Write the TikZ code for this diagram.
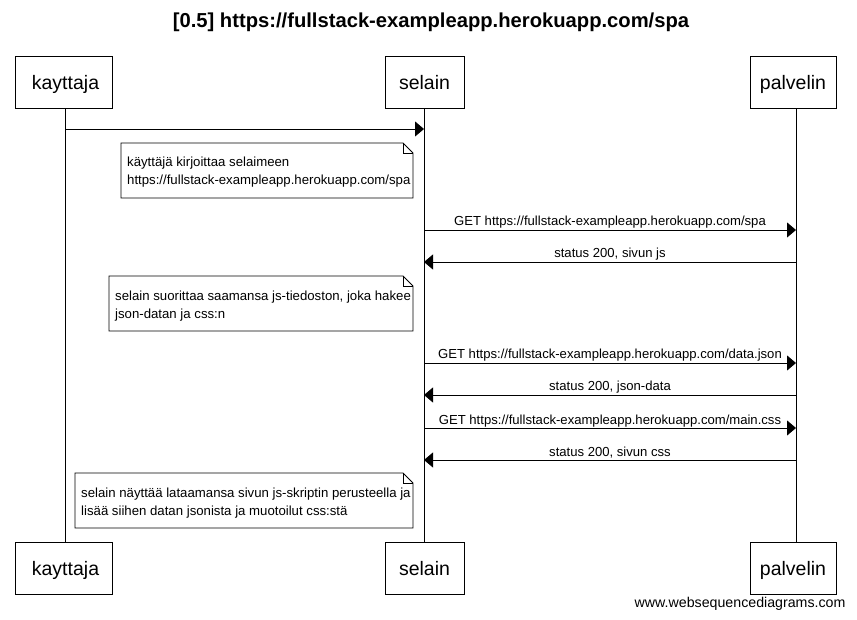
\documentclass[tikz,border=0pt]{standalone}
\usepackage{fontspec}
\setmainfont{Liberation Sans}
\usetikzlibrary{arrows.meta}
\begin{document}
\begin{tikzpicture}[x=1pt,y=-1pt,
  actor/.style={draw,line width=0.8pt,minimum height=52pt,inner sep=0pt,font=\fontsize{19.5}{21}\selectfont},
  alabel/.style={font=\fontsize{19.5}{21}\selectfont,inner sep=0pt,anchor=base},
  life/.style={line width=0.8pt},
  msg/.style={line width=0.8pt,-{Triangle[length=9pt,width=15pt]}},
  mlabel/.style={font=\fontsize{13.1}{14}\selectfont,inner sep=0pt,anchor=base},
  notetext/.style={font=\fontsize{13.2}{17.5}\selectfont,align=left,inner sep=0pt,anchor=north west},
  notebox/.style={line width=0.8pt,fill=white},
  fold/.style={line width=0.6pt}]
\useasboundingbox (0,0) rectangle (857,620);
\node[font=\bfseries\fontsize{20.2}{22}\selectfont] (title) at (431,22) {[0.5] https://fullstack-exampleapp.herokuapp.com/spa};
% actors top
\node[draw,line width=0.8pt,minimum width=97pt,minimum height=52pt] (kt) at (63.5,82) {};
\node[draw,line width=0.8pt,minimum width=79pt,minimum height=52pt] (st) at (424.5,82) {};
\node[draw,line width=0.8pt,minimum width=86pt,minimum height=52pt] (pt) at (793,82) {};
\node[alabel] (ktl) at (65.5,89.5) {kayttaja};
\node[alabel] (stl) at (424.5,89.5) {selain};
\node[alabel] (ptl) at (793,89.5) {palvelin};
% actors bottom
\node[draw,line width=0.8pt,minimum width=97pt,minimum height=52pt] (kb) at (63.5,568) {};
\node[draw,line width=0.8pt,minimum width=79pt,minimum height=52pt] (sb) at (424.5,568) {};
\node[draw,line width=0.8pt,minimum width=86pt,minimum height=52pt] (pb) at (793,568) {};
\node[alabel] (kbl) at (65.5,575.5) {kayttaja};
\node[alabel] (sbl) at (424.5,575.5) {selain};
\node[alabel] (pbl) at (793,575.5) {palvelin};
% lifelines
\draw[life] (kt.south -| 65,0) -- (kb.north -| 65,0);
\draw[life] (st.south -| 424,0) -- (sb.north -| 424,0);
\draw[life] (pt.south -| 796,0) -- (pb.north -| 796,0);
% message coordinates
\foreach \n/\y in {1/129,2/230,3/262,4/363,5/395,6/428,7/460}{
  \coordinate (k\n) at (65,\y);
  \coordinate (s\n) at (424,\y);
  \coordinate (p\n) at (796,\y);
}
\draw[msg] (k1) -- (s1);
\draw[msg] (s2) -- (p2);
\draw[msg] (p3) -- (s3);
\draw[msg] (s4) -- (p4);
\draw[msg] (p5) -- (s5);
\draw[msg] (s6) -- (p6);
\draw[msg] (p7) -- (s7);
\node[mlabel] (l2) at (610,226) {GET https://fullstack-exampleapp.herokuapp.com/spa};
\node[mlabel] (l3) at (610,258) {status 200, sivun js};
\node[mlabel] (l4) at (610,359) {GET https://fullstack-exampleapp.herokuapp.com/data.json};
\node[mlabel] (l5) at (610,391) {status 200, json-data};
\node[mlabel] (l6) at (610,424) {GET https://fullstack-exampleapp.herokuapp.com/main.css};
\node[mlabel] (l7) at (610,456) {status 200, sivun css};
% notes
\foreach \nm/\xa/\ya in {na/121/143, nb/109/276, nc/75/473}{
  \draw[notebox] (\xa,\ya) -- (403,\ya) -- (413,\ya+10) -- (413,\ya+55) -- (\xa,\ya+55) -- cycle;
  \draw[fold] (403,\ya) -- (403,\ya+10) -- (413,\ya+10);
}
\node[notetext] (ta) at (127,157) {käyttäjä kirjoittaa selaimeen\\https://fullstack-exampleapp.herokuapp.com/spa};
\node[notetext] (tb) at (115,291) {selain suorittaa saamansa js-tiedoston, joka hakee\\json-datan ja css:n};
\node[notetext] (tc) at (81,488) {selain näyttää lataamansa sivun js-skriptin perusteella ja\\lisää siihen datan jsonista ja muotoilut css:stä};
\node[font=\fontsize{14.2}{15}\selectfont,anchor=east] (wsd) at (849,604) {www.websequencediagrams.com};
\end{tikzpicture}
\end{document}
